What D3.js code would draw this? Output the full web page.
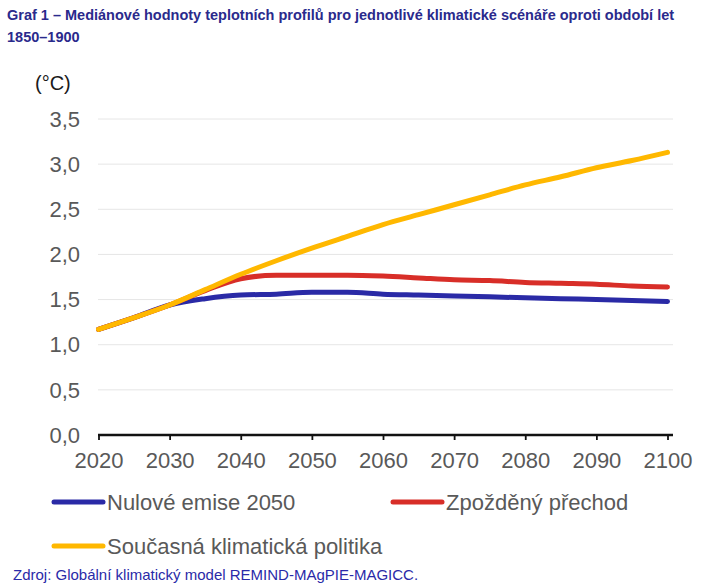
<!DOCTYPE html>
<html><head><meta charset="utf-8">
<script src="https://cdn.jsdelivr.net/npm/d3@7"></script>
<style>body{margin:0;background:#fff;} svg{display:block;font-family:"Liberation Sans",Arial,sans-serif;}</style>
</head><body>
<svg id="c" width="718" height="585"></svg>
<script>
const years = [2020,2025,2030,2035,2040,2045,2050,2055,2060,2065,2070,2075,2080,2085,2090,2095,2100];
const nulove = [1.17,1.30,1.44,1.51,1.55,1.56,1.58,1.58,1.56,1.55,1.54,1.53,1.52,1.51,1.50,1.49,1.48];
const zpozdeny = [1.17,1.30,1.44,1.60,1.73,1.77,1.77,1.77,1.76,1.74,1.72,1.71,1.69,1.68,1.67,1.65,1.64];
const soucasna = [1.17,1.30,1.44,1.61,1.78,1.93,2.07,2.20,2.33,2.44,2.55,2.66,2.77,2.86,2.96,3.04,3.13];
const seriesNames = ["Nulové emise 2050","Zpožděný přechod","Současná klimatická politika"];
const seriesColors = ["#2a2aa6","#d82e28","#ffb800"];
const yTicks = [0,0.5,1,1.5,2,2.5,3,3.5];
const xTicks = [2020,2030,2040,2050,2060,2070,2080,2090,2100];

const svg = d3.select("#c");
const x = d3.scaleLinear().domain([2020,2100]).range([98.5,667.5]);
const y = d3.scaleLinear().domain([0,3.5]).range([435,119]);
const fmt = d => d.toFixed(1).replace(".", ",");

// title
const title = svg.append("text").attr("font-weight","bold").attr("font-size",14.5).attr("fill","#2a2a8c");
title.append("tspan").attr("x",7).attr("y",20).text("Graf 1 – Mediánové hodnoty teplotních profilů pro jednotlivé klimatické scénáře oproti období let");
title.append("tspan").attr("x",7).attr("y",42).text("1850–1900");

// unit
svg.append("text").attr("x",35).attr("y",83).attr("dy","0.35em").attr("font-size",20).attr("fill","#1a1a1a").text("(°C)");

// gridlines
svg.append("g").selectAll("line").data(yTicks.filter(d=>d>0)).join("line")
  .attr("x1",98).attr("x2",673).attr("y1",d=>y(d)).attr("y2",d=>y(d))
  .attr("stroke","#e6e6e6").attr("stroke-width",1);

// y labels
svg.append("g").selectAll("text").data(yTicks).join("text")
  .attr("x",80).attr("y",d=>y(d)).attr("dy","0.35em").attr("text-anchor","end")
  .attr("font-size",22).attr("fill","#595959").text(fmt);

// x axis
const xAxis = d3.axisBottom(x).tickValues(xTicks).tickFormat(d3.format("d")).tickSize(5).tickSizeOuter(0).tickPadding(12);
const gx = svg.append("g").attr("transform","translate(0,435)").call(xAxis);
gx.select(".domain").attr("stroke","#111").attr("stroke-width",2.5).attr("d","M98,0H673");
gx.selectAll(".tick line").attr("stroke","#111").attr("stroke-width",1.8);
gx.selectAll(".tick text").attr("font-size",22).attr("fill","#595959").attr("font-family","Liberation Sans, Arial, sans-serif");

// lines
const data = [nulove, zpozdeny, soucasna];
const line = d3.line().x((d,i)=>x(years[i])).y(d=>y(d)).curve(d3.curveMonotoneX);
svg.append("g").selectAll("path").data(data).join("path")
  .attr("d",line).attr("fill","none")
  .attr("stroke",(d,i)=>seriesColors[i]).attr("stroke-width",5)
  .attr("stroke-linecap","round").attr("stroke-linejoin","round");

// legend
const legendPos = [[54,502],[393,502],[54,546]];
const lg = svg.append("g").selectAll("g").data(seriesNames).join("g")
  .attr("transform",(d,i)=>`translate(${legendPos[i][0]},${legendPos[i][1]})`);
lg.append("line").attr("x1",0).attr("x2",49).attr("y1",0).attr("y2",0)
  .attr("stroke",(d,i)=>seriesColors[i]).attr("stroke-width",5).attr("stroke-linecap","round");
lg.append("text").attr("x",53).attr("y",0).attr("dy","0.35em").attr("font-size",22).attr("fill","#595959").text(d=>d);

// source
svg.append("text").attr("x",13).attr("y",580).attr("font-size",15).attr("fill","#2a2aa8")
  .text("Zdroj: Globální klimatický model REMIND-MAgPIE-MAGICC.");
</script>
</body></html>
